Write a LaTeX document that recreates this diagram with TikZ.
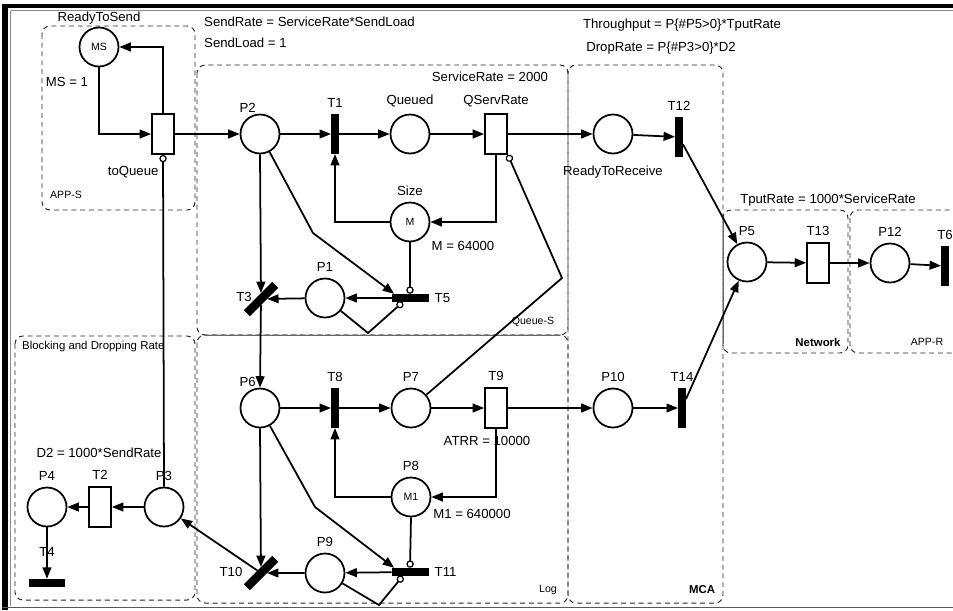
\documentclass[tikz,border=0pt]{standalone}
\usepackage{fontspec}
\setmainfont{Liberation Sans}
\usetikzlibrary{arrows.meta}

\newcommand\tokenfont{\fontsize{6}{7}\selectfont}

\begin{document}
\begin{tikzpicture}[x=0.02cm, y=-0.02cm, font=\fontsize{7.5}{9}\selectfont,
        >={Triangle[length=6.5pt,width=5pt]},
        place/.style={circle, draw, line width=1pt, fill=white, minimum size=0.78cm, inner sep=0pt},
        timedtr/.style={rectangle, draw, line width=1pt, fill=white, minimum width=0.44cm, minimum height=0.8cm, inner sep=0pt},
        immtr/.style={rectangle, fill, minimum width=0.16cm, minimum height=0.8cm, inner sep=0pt, outer sep=0pt},
        immtrh/.style={rectangle, fill, minimum width=0.74cm, minimum height=0.17cm, inner sep=0pt, outer sep=0pt},
        immtrd/.style={immtrh, minimum width=0.8cm, rotate=45},
        pnarc/.style={->, line width=1pt},
        pninhib/.style={-{Circle[open, length=4.2pt, width=4.2pt, line width=0.7pt]}, line width=1pt},
        subnet/.style={draw=black!85, dash pattern=on 2.8pt off 2.2pt, line width=0.55pt, rounded corners=4.5pt},
        netlbl/.style={font=\fontsize{6}{7}\selectfont}]

                \useasboundingbox (0,0) rectangle (953,610);
                \clip (0,0) rectangle (953,610);

                % Window frame of the screenshot
                \fill (2,4) rectangle (953,8);
                \fill (2,4) rectangle (8,610);
                \draw[black!45, line width=0.5pt] (11,10.5) -- (953,10.5);
                \draw[black!45, line width=0.5pt] (10.5,10.5) -- (10.5,606);
                \draw[black!65, line width=0.8pt] (2,607.5) -- (953,607.5);

                % Sub-net boxes
                \draw[subnet] (42,26) rectangle (195,210);
                \draw[subnet] (197,65) rectangle (568,335);
                \draw[subnet] (197,335) rectangle (568,603);
                \draw[subnet] (568,65) rectangle (723,603);
                \draw[subnet] (723,210) rectangle (848,353);
                \draw[subnet] (850,210) rectangle (968,353);
                \draw[subnet] (15,336) rectangle (195,600);
                \draw[black!60, line width=0.5pt] (205,335) -- (560,335);
                \draw[black!60, line width=0.5pt] (723,216) -- (723,344);

                % Sub-net names
                \node[netlbl, anchor=west] (appslbl) at (44,195) {APP-S};
                \node[netlbl] (queueslbl) at (533,322) {Queue-S};
                \node[netlbl] (loglbl) at (548,590) {Log};
                \node[font=\fontsize{6.5}{8}\selectfont\bfseries] (mcalbl) at (702,590) {MCA};
                \node[font=\fontsize{6.5}{8}\selectfont\bfseries] (networklbl) at (818,342) {Network};
                \node[netlbl] (apprlbl) at (927,342) {APP-R};
                \node[font=\fontsize{6.5}{8}\selectfont, anchor=west] (blocklbl) at (16,347) {Blocking and Dropping Rate};

                % Rates and initial markings
                \node[anchor=west] (sendrate) at (198,22) {SendRate = ServiceRate*SendLoad};
                \node[anchor=west] (sendload) at (198,43) {SendLoad = 1};
                \node (msinit) at (67,82) {MS = 1};
                \node (servrate) at (490,77) {ServiceRate = 2000};
                \node (tput) at (682,25) {Throughput = P\{\#P5>0\}*TputRate};
                \node (droprate) at (661,48) {DropRate = P\{\#P3>0\}*D2};
                \node (tputrate) at (828,200) {TputRate = 1000*ServiceRate};
                \node (minit) at (463,246) {M = 64000};
                \node (atrr) at (487,441) {ATRR = 10000};
                \node (m1init) at (472,514) {M1 = 640000};
                \node (d2rate) at (99,453) {D2 = 1000*SendRate};

                % Places
                \node[place, label={[yshift=-2pt]above:ReadyToSend}] (MS) at (99,47) {\tokenfont MS};
                \node[place, label={[xshift=-7pt,yshift=-3pt]above:P2}] (P2) at (260,134) {};
                \node[place, label=above:Queued] (Queued) at (410,134) {};
                \node[place, label={[label distance=3pt]below:ReadyToReceive}] (RTR) at (613,134) {};
                \node[place, label=above:Size] (Size) at (410,222) {\tokenfont M};
                \node[place, label=above:P1] (P1) at (325,298) {};
                \node[place, label=above:P5] (P5) at (747,262) {};
                \node[place, label=above:P12] (P12) at (890,263) {};
                \node[place, label={[xshift=-7pt,yshift=-3pt]above:P6}] (P6) at (260,408) {};
                \node[place, label=above:P7] (P7) at (411,408) {};
                \node[place, label=above:P8] (P8) at (411,497) {\tokenfont M1};
                \node[place, label=above:P9] (P9) at (325,573) {};
                \node[place, label=above:P10] (P10) at (613,408) {};
                \node[place, label=above:P3] (P3) at (164,507) {};
                \node[place, label=above:P4] (P4) at (47,507) {};

                % Transitions
                \node[timedtr, label={[xshift=-17pt,label distance=3pt]below:toQueue}] (toQueue) at (163,134) {};
                \node[immtr, label=above:T1] (T1) at (335,134) {};
                \node[timedtr, label=above:QServRate] (QServRate) at (496,134) {};
                \node[immtr, label=above:T12] (T12) at (679,137) {};
                \node[timedtr, label=above:T13] (T13) at (818,263) {};
                \node[immtr, label=above:T6] (T6) at (945,266) {};
                \node[immtrh, label=right:T5] (T5) at (410,298) {};
                \node[immtrd] (T3) at (261,299) {};
                \node (T3lbl) at (244,297) {T3};
                \node[immtr, label=above:T8] (T8) at (335,408) {};
                \node[timedtr, label=above:T9] (T9) at (496,408) {};
                \node[immtr, label=above:T14] (T14) at (682,408) {};
                \node[immtrh, label=right:T11] (T11) at (410,572) {};
                \node[immtrd] (T10) at (261,573) {};
                \node (T10lbl) at (231,572) {T10};
                \node[timedtr, label=above:T2] (T2) at (100,507) {};
                \node[immtrh, label={[label distance=9pt]above:T4}] (T4) at (47,583) {};

                % Bend points
                \coordinate (bend1) at (313,233);
                \coordinate (bend2) at (368,333);
                \coordinate (bend3) at (315,507);
                \coordinate (bend4) at (379,605);
                \coordinate (bend5) at (562,278);

                % Arcs of the sender and the queue
                \draw[pnarc] (MS.south) |- (toQueue.west);
                \draw[pnarc] (toQueue.north) |- (MS.east);
                \draw[pnarc] (toQueue) -- (P2);
                \draw[pnarc] (P2) -- (T1);
                \draw[pnarc] (T1) -- (Queued);
                \draw[pnarc] (Queued) -- (QServRate);
                \draw[pnarc] (QServRate) -- (RTR);
                \draw[pnarc] (RTR) -- (T12);
                \draw[pnarc] (QServRate.south) |- (Size.east);
                \draw[pnarc] (Size.west) -| (T1.south);
                \draw[pninhib] (Size.south) -- (T5.north);
                \draw[pnarc] (P2) -- (bend1) -- (T5.165);
                \draw[pnarc] (P2.south) -- (T3);
                \draw[pnarc] (T3) -- (P6.north);
                \draw[pnarc] (T5) -- (P1);
                \draw[pnarc] (P1) -- (T3);
                \draw[pninhib] (P1) -- (bend2) -- (T5.-150);

                % Arcs of the log
                \draw[pnarc] (P6) -- (T8);
                \draw[pnarc] (T8) -- (P7);
                \draw[pnarc] (P7) -- (T9);
                \draw[pnarc] (T9) -- (P10);
                \draw[pnarc] (T9.south) |- (P8.east);
                \draw[pnarc] (P8.west) -| (T8.south);
                \draw[pninhib] (P8.south) -- (T11.north);
                \draw[pnarc] (P6.south) -- (T10);
                \draw[pnarc] (P6) -- (bend3) -- (T11.165);
                \draw[pnarc] (T11) -- (P9);
                \draw[pnarc] (P9) -- (T10);
                \draw[pninhib] (P9) -- (bend4) -- (T11.-150);
                \draw[pninhib] (P7) -- (bend5) -- (QServRate.south east);

                % Arcs of the network and the receiver
                \draw[pnarc] (P10) -- (T14);
                \draw[pnarc] (T12) -- (P5);
                \draw[pnarc] (T14) -- (P5);
                \draw[pnarc] (P5) -- (T13);
                \draw[pnarc] (T13) -- (P12);
                \draw[pnarc] (P12) -- (T6);

                % Arcs of blocking and dropping
                \draw[pninhib] (P3.north) -- (toQueue.south);
                \draw[pnarc] (T10) -- (P3);
                \draw[pnarc] (P3) -- (T2);
                \draw[pnarc] (T2) -- (P4);
                \draw[pnarc] (P4) -- (T4);
            \end{tikzpicture}
\end{document}
